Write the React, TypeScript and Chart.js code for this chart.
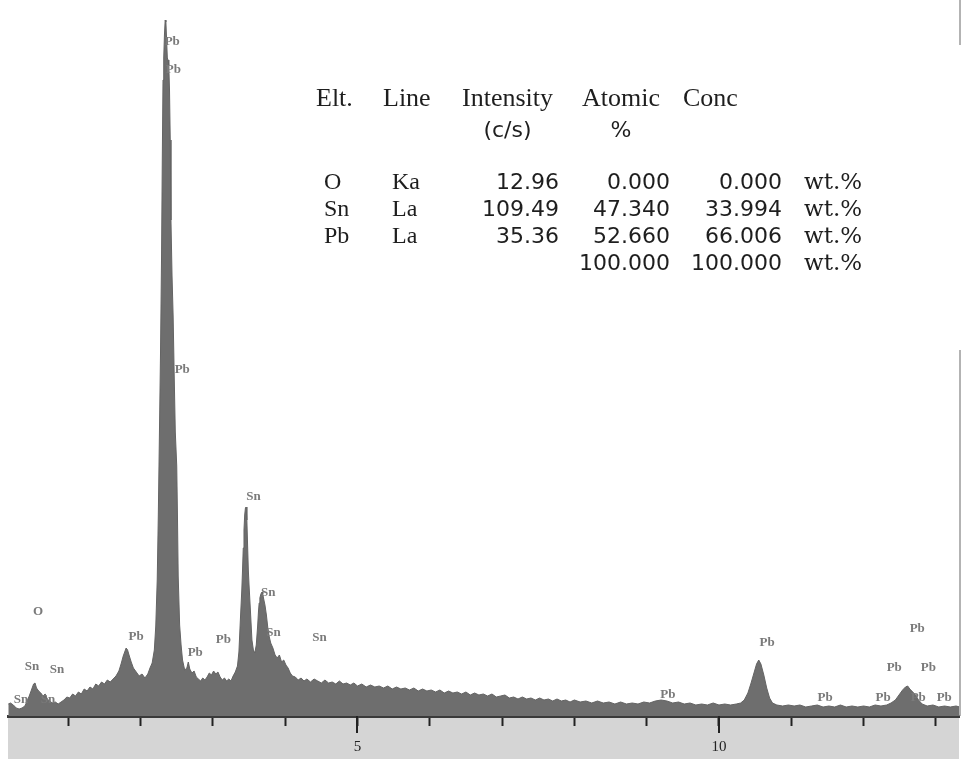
import { useEffect, useRef } from 'react';
import { Chart, registerables } from 'chart.js';

Chart.register(...registerables);

// ---- EDS spectrum, [energy keV, counts] per region ----
const LOW_ENERGY_REGION: [number, number][] = [
  [0.17, 60], [0.20, 65], [0.24, 55], [0.28, 40], [0.32, 35], [0.36, 40], [0.40, 50],
  [0.43, 75], [0.46, 100], [0.49, 130], [0.52, 160], [0.54, 165], [0.56, 140], [0.59, 125],
  [0.62, 115], [0.65, 100], [0.68, 110], [0.71, 85], [0.74, 75], [0.78, 65], [0.82, 70],
  [0.86, 60], [0.90, 70], [0.94, 80], [0.98, 95], [1.02, 90], [1.06, 110], [1.10, 100],
  [1.14, 120], [1.18, 110], [1.22, 135], [1.26, 125], [1.30, 145], [1.34, 135], [1.38, 160],
  [1.42, 150], [1.46, 170], [1.50, 160], [1.54, 180], [1.58, 170], [1.62, 185], [1.66, 200],
  [1.70, 225], [1.73, 260], [1.76, 300], [1.78, 320], [1.80, 340], [1.82, 330], [1.84, 305],
  [1.87, 270], [1.90, 240], [1.94, 220], [1.98, 200], [2.02, 210], [2.06, 190], [2.10, 210],
  [2.13, 240],
];

const PB_M_PEAK: [number, number][] = [
  [2.16, 265], [2.19, 330], [2.21, 450], [2.23, 680], [2.245, 1000], [2.26, 1400],
  [2.275, 1800], [2.29, 2300], [2.30, 2780], [2.31, 3180], [2.32, 3290], [2.33, 3405],
  [2.34, 3480], [2.35, 3470], [2.36, 3380], [2.37, 3290], [2.38, 3280], [2.39, 3255],
  [2.40, 3130], [2.41, 2880], [2.42, 2480], [2.435, 2200], [2.45, 2000], [2.465, 1700],
  [2.48, 1420], [2.50, 1250], [2.51, 1000], [2.52, 700], [2.54, 455], [2.56, 355],
  [2.58, 280],
];

const MID_REGION: [number, number][] = [
  [2.61, 230], [2.64, 240], [2.66, 270], [2.68, 235], [2.71, 215], [2.74, 225], [2.77, 195],
  [2.80, 185], [2.83, 175], [2.86, 190], [2.89, 180], [2.92, 195], [2.95, 215], [2.98, 205],
  [3.01, 225], [3.04, 210], [3.07, 220], [3.10, 195], [3.13, 180], [3.16, 190], [3.19, 175],
  [3.22, 185], [3.25, 175], [3.28, 200], [3.31, 220], [3.34, 250],
];

const SN_L_PEAKS: [number, number][] = [
  [3.36, 320], [3.38, 480], [3.40, 630], [3.41, 730], [3.42, 840], [3.43, 930], [3.44, 1005],
  [3.45, 1040], [3.46, 1045], [3.47, 980], [3.48, 855], [3.49, 730], [3.50, 655], [3.52, 520],
  [3.54, 380], [3.56, 330], [3.58, 315], [3.60, 355], [3.62, 455], [3.63, 520], [3.64, 565],
  [3.65, 590], [3.66, 605], [3.67, 615], [3.68, 620], [3.69, 610], [3.70, 590], [3.72, 555],
  [3.74, 505], [3.76, 440], [3.78, 395], [3.80, 365], [3.83, 340], [3.86, 305], [3.89, 290],
  [3.92, 305], [3.95, 270], [3.98, 280], [4.01, 255], [4.04, 240], [4.07, 215], [4.10, 200],
];

const HIGH_BACKGROUND: [number, number][] = [
  [4.14, 195], [4.18, 180], [4.22, 190], [4.26, 175], [4.30, 185], [4.35, 170], [4.40, 185],
  [4.45, 175], [4.50, 165], [4.55, 180], [4.60, 165], [4.65, 170], [4.70, 160], [4.75, 175],
  [4.80, 160], [4.85, 165], [4.90, 155], [4.95, 165], [5.00, 150], [5.06, 160], [5.12, 145],
  [5.18, 155], [5.24, 145], [5.30, 150], [5.36, 140], [5.42, 150], [5.48, 135], [5.54, 145],
  [5.60, 135], [5.66, 140], [5.72, 130], [5.78, 140], [5.84, 125], [5.90, 135], [5.96, 125],
  [6.02, 130], [6.08, 120], [6.14, 130], [6.20, 115], [6.26, 125], [6.32, 115], [6.38, 120],
  [6.44, 110], [6.50, 120], [6.56, 105], [6.62, 115], [6.68, 105], [6.74, 110], [6.80, 100],
  [6.86, 110], [6.92, 95], [6.98, 100], [7.04, 105], [7.10, 90], [7.16, 95], [7.22, 85],
  [7.28, 95], [7.34, 85], [7.40, 90], [7.46, 80], [7.52, 90], [7.58, 80], [7.64, 85],
  [7.70, 75], [7.76, 85], [7.82, 75], [7.88, 80], [7.94, 70], [8.00, 80], [8.08, 70],
  [8.16, 75], [8.24, 65], [8.32, 75], [8.40, 65], [8.48, 70], [8.56, 60], [8.64, 70],
  [8.72, 60], [8.80, 65], [8.88, 60], [8.96, 70], [9.04, 65], [9.12, 75], [9.20, 80],
  [9.28, 75], [9.36, 65], [9.44, 70], [9.52, 60], [9.60, 65], [9.68, 55], [9.76, 60],
  [9.84, 55], [9.92, 65], [10.00, 55], [10.08, 60], [10.16, 55], [10.24, 60], [10.30, 65],
];

const PB_L_REGION: [number, number][] = [
  [10.35, 80], [10.40, 115], [10.44, 160], [10.48, 210], [10.52, 260], [10.55, 280],
  [10.58, 260], [10.62, 205], [10.66, 140], [10.70, 90], [10.74, 65], [10.80, 55],
  [10.88, 50], [10.96, 55], [11.04, 50], [11.12, 55], [11.20, 45], [11.28, 50], [11.36, 55],
  [11.44, 45], [11.52, 50], [11.60, 45], [11.68, 55], [11.76, 45], [11.84, 50], [11.92, 45],
  [12.00, 50], [12.08, 45], [12.16, 55], [12.24, 50], [12.32, 55], [12.38, 65], [12.44, 80],
  [12.49, 105], [12.54, 130], [12.58, 145], [12.61, 150], [12.64, 135], [12.68, 120],
  [12.72, 105], [12.76, 80], [12.81, 60], [12.88, 50], [12.96, 55], [13.04, 45], [13.12, 50],
  [13.20, 45], [13.28, 50], [13.33, 45],
];

// Element line markers
const MARKER_TEXT = [
  'Pb', 'Pb', 'Pb', 'Sn', 'Sn', 'Sn', 'Sn', 'O', 'Pb', 'Pb', 'Pb', 'Sn', 'Sn', 'Sn', 'Sn',
  'Pb', 'Pb', 'Pb', 'Pb', 'Pb', 'Pb', 'Pb', 'Pb', 'Pb',
];
const MARKER_KEV = [
  2.438, 2.452, 2.576, 3.56, 3.767, 3.837, 4.474, 0.582, 1.939, 3.144, 2.756, 0.499, 0.845,
  0.346, 0.72, 9.294, 10.665, 11.468, 12.27, 12.742, 12.424, 12.895, 12.756, 13.116,
];
const MARKER_COUNTS = [
  3370, 3230, 1730, 1095, 615, 415, 390, 520, 395, 380, 315, 245, 230, 80, 80, 105, 365, 90,
  90, 435, 240, 240, 90, 90,
];

// Quantification table
const TABLE_ELEMENTS = ['O', 'Sn', 'Pb'];
const TABLE_LINES = ['Ka', 'La', 'La'];
const TABLE_INTENSITY = [12.96, 109.49, 35.36];
const TABLE_ATOMIC = [0.0, 47.34, 52.66];
const TABLE_CONC = [0.0, 33.994, 66.006];
const TABLE_TOTAL = 100.0;

// Axis
const X_MIN_KEV = 0.166;
const X_MAX_KEV = 13.32;
const Y_MAX_COUNTS = 3580;
const LABELLED_TICKS = [5, 10];

const SPECTRUM = [
  ...LOW_ENERGY_REGION,
  ...PB_M_PEAK,
  ...MID_REGION,
  ...SN_L_PEAKS,
  ...HIGH_BACKGROUND,
  ...PB_L_REGION,
].map(([x, y]) => ({ x, y }));

const axisBandPlugin = {
  id: 'axisBand',
  beforeDraw(chart: any) {
    const { ctx, chartArea } = chart;
    ctx.save();
    ctx.fillStyle = '#ffffff';
    ctx.fillRect(0, 0, chart.width, chart.height);
    ctx.fillStyle = '#d5d5d5';
    ctx.fillRect(chartArea.left, chartArea.bottom, chartArea.right - chartArea.left, chart.height - chartArea.bottom);
    ctx.restore();
  },
};

const markerPlugin = {
  id: 'lineMarkers',
  afterDatasetsDraw(chart: any) {
    const { ctx, scales } = chart;
    ctx.save();
    ctx.font = 'bold 13px "Liberation Serif"';
    ctx.fillStyle = '#7a7a7a';
    ctx.textAlign = 'center';
    ctx.textBaseline = 'middle';
    MARKER_TEXT.forEach((t, i) => {
      ctx.fillText(t, scales.x.getPixelForValue(MARKER_KEV[i]), scales.y.getPixelForValue(MARKER_COUNTS[i]));
    });
    ctx.restore();
  },
};

const majorTickPlugin = {
  id: 'majorTicks',
  afterDraw(chart: any) {
    const { ctx, scales, chartArea } = chart;
    ctx.save();
    ctx.strokeStyle = '#222';
    ctx.lineWidth = 2;
    LABELLED_TICKS.forEach((v) => {
      const px = Math.round(scales.x.getPixelForValue(v));
      ctx.beginPath();
      ctx.moveTo(px, chartArea.bottom);
      ctx.lineTo(px, chartArea.bottom + 17);
      ctx.stroke();
    });
    // right frame edge
    ctx.strokeStyle = '#9a9a9a';
    ctx.lineWidth = 1.5;
    ctx.beginPath();
    ctx.moveTo(chartArea.right + 1, 0);
    ctx.lineTo(chartArea.right + 1, 45);
    ctx.moveTo(chartArea.right + 1, 350);
    ctx.lineTo(chartArea.right + 1, chartArea.bottom);
    ctx.stroke();
    ctx.restore();
  },
};

const tablePlugin = {
  id: 'quantTable',
  afterDraw(chart: any) {
    const { ctx } = chart;
    ctx.save();
    ctx.fillStyle = '#1e1e1e';
    ctx.textBaseline = 'alphabetic';

    const serifHead = '26px "Liberation Serif"';
    const serifRow = '24px "Liberation Serif"';
    const sans = '22px "DejaVu Sans"';

    ctx.font = serifHead;
    ctx.textAlign = 'left';
    ctx.fillText('Elt.', 316, 106);
    ctx.fillText('Line', 383, 106);
    ctx.fillText('Intensity', 462, 106);
    ctx.fillText('Atomic', 582, 106);
    ctx.fillText('Conc', 683, 106);

    ctx.font = sans;
    ctx.textAlign = 'center';
    const intensityW = (() => { ctx.font = serifHead; return ctx.measureText('Intensity').width; })();
    const atomicW = ctx.measureText('Atomic').width;
    ctx.font = sans;
    ctx.fillText('(c/s)', 462 + intensityW / 2, 137);
    ctx.fillText('%', 582 + atomicW / 2, 137);

    const rowY = [189, 216, 243];
    TABLE_ELEMENTS.forEach((el, i) => {
      const y = rowY[i];
      ctx.font = serifRow;
      ctx.textAlign = 'left';
      ctx.fillText(el, 324, y);
      ctx.fillText(TABLE_LINES[i], 392, y);
      ctx.font = sans;
      ctx.textAlign = 'right';
      ctx.fillText(TABLE_INTENSITY[i].toFixed(2), 559, y);
      ctx.fillText(TABLE_ATOMIC[i].toFixed(3), 670, y);
      ctx.fillText(TABLE_CONC[i].toFixed(3), 782, y);
      ctx.font = '23px "DejaVu Serif"';
      ctx.textAlign = 'left';
      ctx.fillText('wt.%', 804, y);
    });
    ctx.font = sans;
    ctx.textAlign = 'right';
    ctx.fillText(TABLE_TOTAL.toFixed(3), 670, 270);
    ctx.fillText(TABLE_TOTAL.toFixed(3), 782, 270);
    ctx.font = '23px "DejaVu Serif"';
    ctx.textAlign = 'left';
    ctx.fillText('wt.%', 804, 270);
    ctx.restore();
  },
};

export default function App() {
  const canvasRef = useRef<HTMLCanvasElement>(null);

  useEffect(() => {
    if (!canvasRef.current) return;
    const chart = new Chart(canvasRef.current, {
      type: 'line',
      data: {
        datasets: [
          {
            data: SPECTRUM,
            fill: 'origin',
            backgroundColor: '#6e6e6e',
            borderColor: '#646464',
            borderWidth: 1,
            pointRadius: 0,
            tension: 0,
          },
        ],
      },
      options: {
        animation: false,
        responsive: false,
        devicePixelRatio: 1,
        layout: { padding: { left: 8, right: 2, top: 0, bottom: 0 } },
        plugins: {
          legend: { display: false },
          tooltip: { enabled: false },
        },
        scales: {
          x: {
            type: 'linear',
            min: X_MIN_KEV,
            max: X_MAX_KEV,
            z: 1,
            border: { display: true, color: '#3a3a3a', width: 3 },
            grid: {
              drawOnChartArea: false,
              drawTicks: true,
              tickLength: 10,
              tickWidth: 2,
              tickColor: '#222',
            },
            ticks: {
              stepSize: 1,
              includeBounds: false,
              autoSkip: false,
              maxRotation: 0,
              padding: 12,
              color: '#222',
              font: { family: 'Liberation Serif', size: 15 },
              callback: (v: any) => (LABELLED_TICKS.includes(Number(v)) ? String(v) : ''),
            },
            afterFit: (scale: any) => {
              scale.height = 43;
            },
          },
          y: {
            type: 'linear',
            display: false,
            min: 0,
            max: Y_MAX_COUNTS,
          },
        },
      },
      plugins: [axisBandPlugin, markerPlugin, majorTickPlugin, tablePlugin],
    } as any);
    return () => chart.destroy();
  }, []);

  return (
    <div style={{ position: 'fixed', left: 0, top: 0, width: 961, height: 759, background: '#fff' }}>
      <canvas ref={canvasRef} width={961} height={759} style={{ display: 'block' }} />
    </div>
  );
}
